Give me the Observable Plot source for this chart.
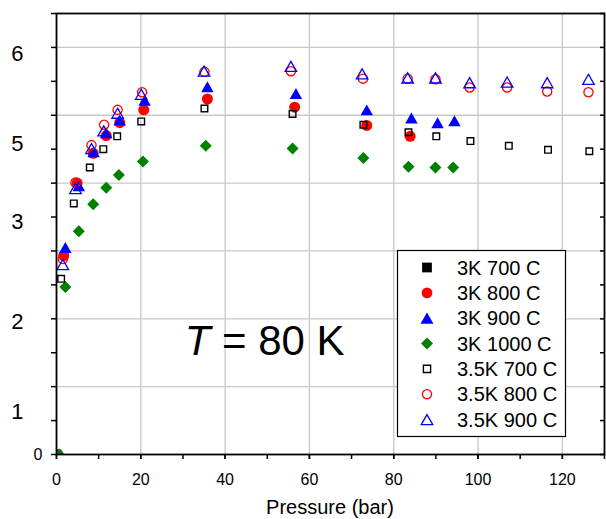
<!DOCTYPE html>
<html><head><meta charset="utf-8">
<script src="https://cdn.jsdelivr.net/npm/d3@7"></script>
<script src="https://cdn.jsdelivr.net/npm/@observablehq/plot@0.6"></script>
<style>body{margin:0;background:#fff;font-family:"Liberation Sans",Arial,sans-serif;} #chart{width:606px;height:519px;}</style>
</head><body><div id="chart"></div>
<script>
// ---- data: [pressure (bar), value] ----
const s3K700 = [[0,0]];
const s3K800 = [[0.3,0],[1.7,2.93],[4.9,4.00],[8.7,4.44],[11.8,4.70],[15.0,4.89],[20.7,5.08],[35.8,5.24],[56.5,5.12],[73.6,4.85],[83.9,4.69]];
const s3K900 = [[0,0],[2.1,3.05],[5.3,3.96],[8.8,4.46],[11.8,4.74],[15.0,4.93],[20.9,5.22],[35.8,5.42],[56.8,5.32],[73.6,5.08],[84.2,4.96],[90.4,4.89],[94.4,4.92]];
const s3K1000 = [[0.6,0],[2.1,2.47],[5.3,3.29],[8.7,3.69],[11.8,3.93],[14.8,4.12],[20.5,4.32],[35.4,4.55],[56.0,4.51],[72.8,4.37],[83.5,4.24],[89.9,4.23],[94.1,4.23]];
const s35K700 = [[1.1,2.59],[4.1,3.70],[7.9,4.23],[11.1,4.50],[14.4,4.69],[20.1,4.91],[35.1,5.10],[56.0,5.02],[72.8,4.86],[83.5,4.75],[90.1,4.69],[98.2,4.62],[107.3,4.55],[116.6,4.49],[126.4,4.47]];
const s35K800 = [[1.5,2.88],[4.5,4.01],[8.3,4.56],[11.3,4.86],[14.5,5.08],[20.3,5.34],[35.1,5.64],[55.6,5.65],[72.7,5.54],[83.3,5.54],[89.9,5.53],[98.0,5.41],[106.9,5.41],[116.4,5.35],[126.2,5.34]];
const s35K900 = [[1.5,2.80],[4.5,3.92],[8.3,4.51],[11.2,4.77],[14.5,5.03],[20.1,5.31],[35.0,5.65],[55.6,5.72],[72.5,5.61],[83.3,5.55],[89.9,5.55],[98.0,5.48],[106.9,5.49],[116.4,5.48],[126.2,5.53]];

const seriesNames = ["3K 700 C","3K 800 C","3K 900 C","3K 1000 C","3.5K 700 C","3.5K 800 C","3.5K 900 C"];
const seriesData = [s3K700, s3K800, s3K900, s3K1000, s35K700, s35K800, s35K900];

// axis ticks / labels
const xLabelTicks = [0,20,40,60,80,100,120];
const xAllTicks = [0,10,20,30,40,50,60,70,80,90,100,110,120,130];
const xGrid = [20,40,60,80,100,120];
const yGrid = [1,2,3,4,5,6];
const yAllTicks = [0,0.5,1,1.5,2,2.5,3,3.5,4,4.5,5,5.5,6,6.5];
const yLabelPos = [5.91,4.58,3.43,1.95,0.62];
const yLabels = ["6","5","3","2","1"];
const yZeroPos = [0];
const yZeroLabel = ["0"];
const annot = {x: 49.5, y: 1.46};

// ---- symbols ----
const R = s => Math.sqrt(s/Math.PI);
const symCircle = {draw(c,s){const r=R(s); c.moveTo(r,0); c.arc(0,0,r,0,2*Math.PI); c.closePath();}};
const symSquare = {draw(c,s){const h=R(s)*0.75; c.rect(-h,-h,2*h,2*h);}};
const symTri = {draw(c,s){const r=R(s), w=r*1.2, h=r*1.05; c.moveTo(0,-h); c.lineTo(w,h); c.lineTo(-w,h); c.closePath();}};
const symDiamond = {draw(c,s){const h=R(s)*1.2; c.moveTo(0,-h); c.lineTo(h,0); c.lineTo(0,h); c.lineTo(-h,0); c.closePath();}};

const styles = [
  {symbol: symSquare, fill: "black", stroke: "none", r: 6.5, sw: 0},
  {symbol: symCircle, fill: "#ff0000", stroke: "none", r: 5.5, sw: 0},
  {symbol: symTri, fill: "#0000ff", stroke: "none", r: 5.2, sw: 0},
  {symbol: symDiamond, fill: "#008000", stroke: "none", r: 5, sw: 0},
  {symbol: symSquare, fill: "none", stroke: "black", r: 4.4, sw: 1.4},
  {symbol: symCircle, fill: "none", stroke: "#ff0000", r: 4.6, sw: 1.3},
  {symbol: symTri, fill: "none", stroke: "#0000ff", r: 4.8, sw: 1.3}
];

const dotMarks = seriesData.map((d,i) => Plot.dot(d, {
  x: p => p[0], y: p => p[1], symbol: styles[i].symbol, r: styles[i].r,
  fill: styles[i].fill, stroke: styles[i].stroke, strokeWidth: styles[i].sw, clip: true
}));

const plot = Plot.plot({
  width: 606, height: 519,
  marginLeft: 56, marginRight: 2, marginTop: 13, marginBottom: 65,
  style: {fontFamily: "'Liberation Sans', Arial, sans-serif", color: "black", background: "white"},
  x: {domain: [0,130]},
  y: {domain: [0,6.5]},
  marks: [
    Plot.gridX(xGrid, {stroke: "#c8c8c8", strokeOpacity: 1, strokeWidth: 1.3}),
    Plot.gridY(yGrid, {stroke: "#c8c8c8", strokeOpacity: 1, strokeWidth: 1.3}),
    ...dotMarks,
    Plot.frame({stroke: "black", strokeWidth: 1.8}),
    Plot.axisX({ticks: xAllTicks, tickSize: 5, tickFormat: () => "", label: null, strokeWidth: 1.5}),
    Plot.axisX({ticks: xLabelTicks, tickSize: 5, tickPadding: 14, fontSize: 16, label: null, strokeWidth: 1.5}),
    Plot.axisY({ticks: yAllTicks, tickSize: 5, tickFormat: () => "", label: null, strokeWidth: 1.5}),
    Plot.axisY({anchor: "right", ticks: yAllTicks, tickSize: -5, tickFormat: () => "", label: null, strokeWidth: 1.5}),
    Plot.axisY({ticks: yLabelPos, tickSize: 0, tickPadding: 33, fontSize: 22, tickFormat: (d,i) => yLabels[i], label: null}),
    Plot.axisY({ticks: yZeroPos, tickSize: 0, tickPadding: 14, fontSize: 16, tickFormat: (d,i) => yZeroLabel[i], label: null})
  ]
});
document.getElementById("chart").appendChild(plot);

const svg = d3.select(plot);
const xs = plot.scale("x"), ys = plot.scale("y");
const [x0, x1] = xs.range;

// axis title
svg.append("text").attr("x", (x0+x1)/2).attr("y", 514).attr("text-anchor","middle")
  .attr("font-size", 20).attr("fill","black").text("Pressure (bar)");

// annotation
const t = svg.append("text").attr("x", xs.apply(annot.x)).attr("y", ys.apply(annot.y))
  .attr("text-anchor","middle").attr("font-size", 42).attr("fill","black");
t.append("tspan").attr("font-style","italic").text("T");
t.append("tspan").text(" = 80 K");

// legend
const lg = svg.append("g").attr("transform","translate(397,250)");
lg.append("rect").attr("x",0.5).attr("y",0.5).attr("width",168).attr("height",186)
  .attr("fill","white").attr("stroke","black").attr("stroke-width",1.2);
const legR = [6.5,5.4,5.4,5,4.8,4.6,4.8];
seriesNames.forEach((name,i) => {
  const cy = 17.5 + i*25.35;
  const st = styles[i];
  lg.append("path").attr("transform",`translate(30,${cy})`)
    .attr("d", d3.symbol(st.symbol, legR[i]*legR[i]*Math.PI)())
    .attr("fill", st.fill).attr("stroke", st.stroke).attr("stroke-width", st.sw);
  lg.append("text").attr("x",60).attr("y",cy).attr("dy","0.35em").attr("text-anchor","start")
    .attr("font-size",20).attr("fill","black").text(name);
});
</script></body></html>
